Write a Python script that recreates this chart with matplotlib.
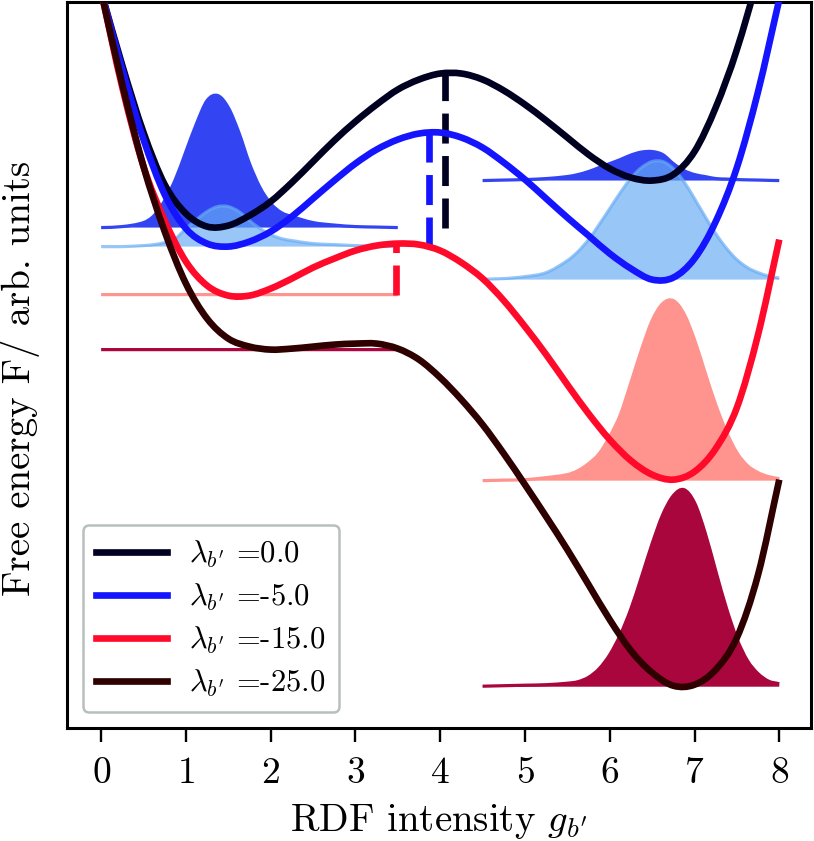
import matplotlib
matplotlib.use("Agg")
import matplotlib.pyplot as plt
from matplotlib.path import Path
from matplotlib.patches import PathPatch
from matplotlib.lines import Line2D

plt.rcParams["font.family"] = "cmr10"
plt.rcParams["mathtext.fontset"] = "cm"
plt.rcParams["axes.formatter.use_mathtext"] = True

# bias strengths and colours
lambdas = [0.0, -5.0, -15.0, -25.0]
curve_colors = ["#000020", "#1414ff", "#ff0a2a", "#2e0000"]
fill_colors = ["#3345f2", "#66abf4", "#ff938d", "#a8063d"]
fill_alpha = [1.0, 0.67, 1.0, 1.0]

# free energy profiles (arb. units), sampled every 0.25 in g_b'
g = [0.0, 0.25, 0.5, 0.75, 1.0, 1.25, 1.5, 1.75, 2.0, 2.25, 2.5, 2.75, 3.0,
     3.25, 3.5, 3.75, 4.0, 4.25, 4.5, 4.75, 5.0, 5.25, 5.5, 5.75, 6.0, 6.25,
     6.5, 6.75, 7.0, 7.25, 7.5, 7.75, 8.0]
F_0 = [0.08, -0.66, -1.33, -1.85, -2.14, -2.27, -2.26, -2.16, -2.02, -1.83,
       -1.62, -1.41, -1.22, -1.05, -0.90, -0.80, -0.74, -0.74, -0.80, -0.91,
       -1.05, -1.21, -1.38, -1.55, -1.69, -1.78, -1.81, -1.75, -1.52, -1.08,
       -0.50, 0.25, 1.25]
F_5 = [0.08, -0.70, -1.40, -1.95, -2.29, -2.44, -2.47, -2.42, -2.32, -2.17,
       -1.99, -1.81, -1.64, -1.50, -1.40, -1.34, -1.33, -1.38, -1.48, -1.63,
       -1.80, -1.99, -2.18, -2.36, -2.54, -2.69, -2.80, -2.78, -2.59, -2.22,
       -1.68, -0.92, 0.0]
F_15 = [0.08, -0.88, -1.67, -2.21, -2.62, -2.86, -2.96, -2.96, -2.89, -2.79,
        -2.68, -2.59, -2.51, -2.46, -2.44, -2.45, -2.51, -2.63, -2.79, -3.01,
        -3.27, -3.55, -3.85, -4.14, -4.40, -4.61, -4.75, -4.80, -4.72, -4.49,
        -4.08, -3.35, -2.40]
F_25 = [0.08, -0.85, -1.67, -2.32, -2.84, -3.19, -3.39, -3.47, -3.50, -3.49,
        -3.47, -3.45, -3.44, -3.44, -3.49, -3.60, -3.78, -4.00, -4.25, -4.54,
        -4.85, -5.17, -5.50, -5.85, -6.20, -6.51, -6.73, -6.86, -6.85, -6.70,
        -6.38, -5.75, -4.80]
profiles = [F_0, F_5, F_15, F_25]

# barrier tops (dashed markers)
barrier_g = [4.06, 3.87, 3.48]
barrier_F = [-0.73, -1.32, -2.42]

# sampled distributions, drawn on top of the well minima
left_base = [-2.28, -2.47, -2.95, -3.50]
right_base = [-1.81, -2.80, -4.81, -6.87]

g_left = [0.0, 0.25, 0.5, 0.625, 0.75, 0.875, 1.0, 1.125, 1.25, 1.375, 1.5,
          1.625, 1.75, 1.875, 2.0, 2.125, 2.25, 2.5, 2.75, 3.0, 3.25, 3.5]
P_left_0 = [0, 0.01, 0.05, 0.12, 0.27, 0.48, 0.76, 1.04, 1.27, 1.32, 1.20,
            0.95, 0.64, 0.40, 0.24, 0.15, 0.11, 0.05, 0.025, 0.01, 0.005, 0]
P_left_5 = [0, 0, 0.01, 0.02, 0.04, 0.08, 0.18, 0.27, 0.35, 0.40, 0.40,
            0.35, 0.26, 0.18, 0.12, 0.08, 0.06, 0.03, 0.02, 0.01, 0.005, 0]
P_left_15 = [0] * 22
P_left_25 = [0] * 22
P_left = [P_left_0, P_left_5, P_left_15, P_left_25]

g_right = [4.5, 4.75, 5.0, 5.25, 5.5, 5.625, 5.75, 5.875, 6.0, 6.125, 6.25,
           6.375, 6.5, 6.625, 6.75, 6.875, 7.0, 7.125, 7.25, 7.375, 7.5,
           7.625, 7.75, 7.875, 8.0]
P_right_0 = [0, 0.005, 0.01, 0.02, 0.04, 0.06, 0.09, 0.13, 0.17, 0.21, 0.255,
             0.285, 0.29, 0.26, 0.17, 0.10, 0.06, 0.04, 0.02, 0.015, 0.01,
             0.007, 0.005, 0.002, 0]
P_right_5 = [0.005, 0.01, 0.03, 0.07, 0.19, 0.28, 0.40, 0.55, 0.71, 0.87,
             1.015, 1.12, 1.18, 1.18, 1.11, 0.98, 0.81, 0.63, 0.46, 0.315,
             0.20, 0.12, 0.07, 0.035, 0.015]
P_right_15 = [0, 0.005, 0.01, 0.03, 0.06, 0.10, 0.17, 0.27, 0.44, 0.66, 0.98,
              1.31, 1.60, 1.77, 1.80, 1.67, 1.41, 1.08, 0.76, 0.49, 0.28, 0.15,
              0.08, 0.04, 0.02]
P_right_25 = [0.005, 0.01, 0.015, 0.02, 0.035, 0.05, 0.094, 0.18, 0.32, 0.52,
              0.78, 1.10, 1.43, 1.72, 1.91, 1.97, 1.84, 1.54, 1.16, 0.79, 0.48,
              0.26, 0.13, 0.055, 0.03]
P_right = [P_right_0, P_right_5, P_right_15, P_right_25]


def smooth_path(xs, ys, base=None):
    # cubic Hermite (Bezier) path through the sampled points
    n = len(xs)
    m = []
    for i in range(n):
        a, b = max(i - 1, 0), min(i + 1, n - 1)
        m.append((ys[b] - ys[a]) / (xs[b] - xs[a]))
    verts = [(xs[0], ys[0])]
    codes = [Path.MOVETO]
    for i in range(n - 1):
        h = xs[i + 1] - xs[i]
        verts += [(xs[i] + h / 3, ys[i] + m[i] * h / 3),
                  (xs[i + 1] - h / 3, ys[i + 1] - m[i + 1] * h / 3),
                  (xs[i + 1], ys[i + 1])]
        codes += [Path.CURVE4] * 3
    if base is not None:
        verts += [(xs[-1], base), (xs[0], base), (xs[0], base)]
        codes += [Path.LINETO, Path.LINETO, Path.CLOSEPOLY]
    return Path(verts, codes)


fig = plt.figure(figsize=(8.14, 8.41), dpi=100)
ax = fig.add_axes([0.0826, 0.1347, 0.9143, 0.8635])

lw = 4.8
for i, lam in enumerate(lambdas):
    for gx, P, base in ((g_left, P_left[i], left_base[i]),
                        (g_right, P_right[i], right_base[i])):
        top = [base + p for p in P]
        ax.add_patch(PathPatch(smooth_path(gx, top, base), facecolor=fill_colors[i],
                               edgecolor="none", alpha=fill_alpha[i],
                               zorder=1 + i * 0.1))
        ax.add_patch(PathPatch(smooth_path(gx, top), facecolor="none",
                               edgecolor=fill_colors[i], lw=2.3,
                               alpha=fill_alpha[i], zorder=1 + i * 0.1))

handles = []
for i, lam in enumerate(lambdas):
    ax.add_patch(PathPatch(smooth_path(g, profiles[i]), facecolor="none",
                           edgecolor=curve_colors[i], lw=lw, capstyle="butt",
                           joinstyle="round", zorder=3 + i * 0.1))
    handles.append(Line2D([], [], color=curve_colors[i], lw=lw,
                          label=r"$\lambda_{b'}$ =%.1f" % lam))
    if i < len(barrier_g):
        ax.plot([barrier_g[i], barrier_g[i]], [left_base[i], barrier_F[i]],
                color=curve_colors[i], lw=lw, dashes=(4.5, 1.87),
                zorder=3 + i * 0.1)

ax.set_xlim(-0.4, 8.38)
ax.set_ylim(-7.28, -0.02)
ax.set_xticks(range(9))
ax.set_yticks([])
ax.tick_params(axis="x", labelsize=27, length=9.8, width=1.7, pad=11)
for s in ax.spines.values():
    s.set_linewidth(2.2)

ax.set_xlabel(r"RDF intensity $g_{b'}$", fontsize=28)
ax.xaxis.set_label_coords(0.5, -0.102)
ax.set_ylabel("Free energy F/ arb. units", fontsize=28)
ax.yaxis.set_label_coords(-0.037, 0.481)

leg = ax.legend(handles=handles, loc="lower left", fontsize=22,
                handlelength=2.3, handletextpad=0.75, labelspacing=0.38,
                borderpad=0.45, framealpha=1, fancybox=True)
leg.get_frame().set_edgecolor("#b8bfbf")
leg.get_frame().set_linewidth(1.8)

fig.savefig("out.png", dpi=100)
